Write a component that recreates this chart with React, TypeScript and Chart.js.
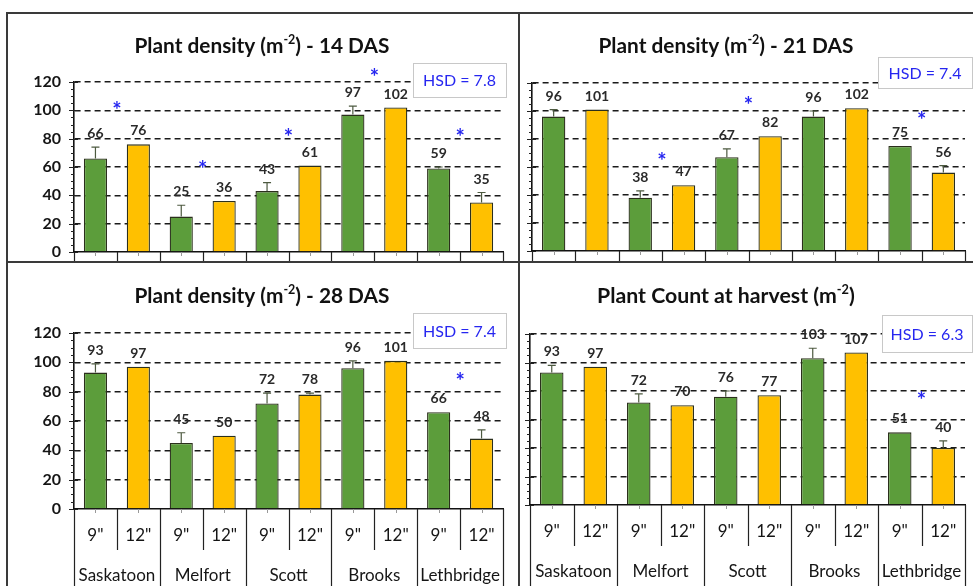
import React, { useEffect, useRef } from "react";
import { Chart, registerables } from "chart.js";

Chart.register(...registerables);

// ---- data ----
const locations = ["Saskatoon", "Melfort", "Scott", "Brooks", "Lethbridge"];
const spacings = ['9"', '12"'];
const yTicks = [0, 20, 40, 60, 80, 100, 120];

// 14 DAS
const das14Nine = [66, 25, 43, 97, 59];
const das14Twelve = [76, 36, 61, 102, 35];
const das14ErrNine = [8, 8, 6, 6, 1];
const das14ErrTwelve = [0, 0, 0, 0, 7];
const das14Stars = [104, 62, 85, 127, 85];
const das14Hsd = 7.8;

// 21 DAS
const das21Nine = [96, 38, 67, 96, 75];
const das21Twelve = [101, 47, 82, 102, 56];
const das21ErrNine = [5, 5, 6, 4, 0];
const das21ErrTwelve = [0, 0, 0, 0, 5];
const das21Stars = [null, 68, 108, null, 97];
const das21Hsd = 7.4;

// 28 DAS
const das28Nine = [93, 45, 72, 96, 66];
const das28Twelve = [97, 50, 78, 101, 48];
const das28ErrNine = [6, 7, 7, 5, 0];
const das28ErrTwelve = [0, 0, 1, 0, 6];
const das28Stars = [null, null, null, null, 91];
const das28Hsd = 7.4;

// at harvest
const harvestNine = [93, 72, 76, 103, 51];
const harvestTwelve = [97, 70, 77, 107, 40];
const harvestErrNine = [5, 6, 4, 7, 0];
const harvestErrTwelve = [0, 0, 0, 0, 5];
const harvestStars = [null, null, null, null, 77];
const harvestHsd = 6.3;

// ---- styling ----
const FONT = "Lato, 'Open Sans', 'DejaVu Sans', sans-serif";
const GREEN = "#5c9d3b";
const YELLOW = "#ffc000";
const BAR_EDGE = "#2b2f1c";
const STAR_BLUE = "#2626f0";

const interleave = (a: number[], b: number[]) => a.flatMap((v, i) => [v, b[i]]);

interface PanelCfg {
  title: [string, string, string];
  nine: number[];
  twelve: number[];
  errNine: number[];
  errTwelve: number[];
  stars: (number | null)[];
  hsd: number;
  left: number;
  top: number;
  w: number;
  h: number;
  padTop: number;
  padRight: number;
  yWidth: number;
  xHeight: number;
  showY: boolean;
  fullTable: boolean;
  titleX: number;
  titleY: number;
  titleW: number;
  hsdBox: [number, number, number, number];
}

const panels: PanelCfg[] = [
  {
    title: ["Plant density (m", "-2", ") - 14 DAS"],
    nine: das14Nine, twelve: das14Twelve, errNine: das14ErrNine, errTwelve: das14ErrTwelve,
    stars: das14Stars, hsd: das14Hsd,
    left: 0, top: 0, w: 519, h: 263, padTop: 82, padRight: 16, yWidth: 74, xHeight: 11,
    showY: true, fullTable: false, titleX: 262, titleY: 53, titleW: 255, hsdBox: [413, 63, 93, 34],
  },
  {
    title: ["Plant density (m", "-2", ") - 21 DAS"],
    nine: das21Nine, twelve: das21Twelve, errNine: das21ErrNine, errTwelve: das21ErrTwelve,
    stars: das21Stars, hsd: das21Hsd,
    left: 519, top: 0, w: 454, h: 263, padTop: 83, padRight: 8, yWidth: 13, xHeight: 12,
    showY: false, fullTable: false, titleX: 207, titleY: 53, titleW: 255, hsdBox: [359, 57, 94, 31],
  },
  {
    title: ["Plant density (m", "-2", ") - 28 DAS"],
    nine: das28Nine, twelve: das28Twelve, errNine: das28ErrNine, errTwelve: das28ErrTwelve,
    stars: das28Stars, hsd: das28Hsd,
    left: 0, top: 263, w: 519, h: 323, padTop: 70, padRight: 16, yWidth: 74, xHeight: 77,
    showY: true, fullTable: true, titleX: 262, titleY: 40, titleW: 255, hsdBox: [413, 50, 93, 35],
  },
  {
    title: ["Plant Count at harvest (m", "-2", ")"],
    nine: harvestNine, twelve: harvestTwelve, errNine: harvestErrNine, errTwelve: harvestErrTwelve,
    stars: harvestStars, hsd: harvestHsd,
    left: 519, top: 263, w: 454, h: 323, padTop: 71, padRight: 8, yWidth: 11, xHeight: 81,
    showY: false, fullTable: true, titleX: 207, titleY: 40, titleW: 258, hsdBox: [363, 52, 90, 37],
  },
];

function drawTitle(ctx: CanvasRenderingContext2D, parts: [string, string, string], cx: number, baseY: number, targetW: number) {
  const measure = (fs: number) => {
    ctx.font = `bold ${fs}px ${FONT}`;
    let w = ctx.measureText(parts[0]).width + ctx.measureText(parts[2]).width;
    ctx.font = `bold ${fs * 0.6}px ${FONT}`;
    return w + ctx.measureText(parts[1]).width;
  };
  const fs = (20 * targetW) / measure(20);
  let x = cx - targetW / 2;
  ctx.fillStyle = "#111";
  ctx.textAlign = "left";
  ctx.textBaseline = "alphabetic";
  ctx.font = `bold ${fs}px ${FONT}`;
  ctx.fillText(parts[0], x, baseY);
  x += ctx.measureText(parts[0]).width;
  ctx.font = `bold ${fs * 0.6}px ${FONT}`;
  ctx.fillText(parts[1], x, baseY - fs * 0.42);
  x += ctx.measureText(parts[1]).width;
  ctx.font = `bold ${fs}px ${FONT}`;
  ctx.fillText(parts[2], x, baseY);
}

const decorPlugin = {
  id: "decor",
  afterDraw(chart: Chart, _args: unknown, o: any) {
    const cfg: PanelCfg = o.cfg;
    const { ctx, chartArea: ca } = chart;
    const xs = chart.scales.x;
    const ys = chart.scales.y;
    const n = (chart.data.labels as string[]).length;
    const step = (ca.right - ca.left) / n;
    const values = interleave(cfg.nine, cfg.twelve);
    const errs = interleave(cfg.errNine, cfg.errTwelve);
    ctx.save();

    // y axis tick marks (major every 20, minor every 5)
    ctx.strokeStyle = "#222";
    ctx.lineWidth = 1;
    for (let v = 0; v <= yTicks[yTicks.length - 1]; v += 5) {
      const py = Math.round(ys.getPixelForValue(v)) + 0.5;
      const major = yTicks.includes(v);
      ctx.beginPath();
      ctx.moveTo(ca.left - (major ? 5 : 3), py);
      ctx.lineTo(ca.left + (major ? 4 : 0), py);
      ctx.stroke();
    }

    // category table under the axis
    ctx.strokeStyle = "#222";
    ctx.lineWidth = 1.2;
    for (let i = 0; i <= n; i++) {
      const px = Math.round(xs.getPixelForValue(Math.min(i, n - 1)) + (i === n ? step / 2 : -step / 2)) + 0.5;
      const end = !cfg.fullTable || i % 2 === 0 ? chart.height : ca.bottom + 41;
      ctx.beginPath();
      ctx.moveTo(px, ca.bottom);
      ctx.lineTo(px, end);
      ctx.stroke();
    }
    ctx.strokeStyle = "#999";
    ctx.lineWidth = 1;
    for (let i = 0; i < n; i++) {
      const px = Math.round(xs.getPixelForValue(i)) + 0.5;
      ctx.beginPath();
      ctx.moveTo(px, ca.bottom);
      ctx.lineTo(px, ca.bottom + 4);
      ctx.stroke();
    }
    if (cfg.fullTable) {
      ctx.fillStyle = "#151515";
      ctx.textAlign = "center";
      ctx.textBaseline = "middle";
      ctx.font = `17px ${FONT}`;
      for (let i = 0; i < n; i++) {
        ctx.fillText(spacings[i % 2], xs.getPixelForValue(i), ca.bottom + 27);
      }
      locations.forEach((loc, k) => {
        const cx = (xs.getPixelForValue(2 * k) + xs.getPixelForValue(2 * k + 1)) / 2;
        ctx.fillText(loc, cx, ca.bottom + 67);
      });
    }

    // error bars + value labels
    const meta = chart.getDatasetMeta(0);
    meta.data.forEach((bar: any, i: number) => {
      const top = ys.getPixelForValue(values[i]);
      const errTop = ys.getPixelForValue(values[i] + errs[i]);
      if (errs[i] > 0) {
        ctx.strokeStyle = "#4d5a40";
        ctx.lineWidth = 1.2;
        ctx.beginPath();
        ctx.moveTo(bar.x, top);
        ctx.lineTo(bar.x, errTop);
        ctx.moveTo(bar.x - 4, errTop);
        ctx.lineTo(bar.x + 4, errTop);
        ctx.stroke();
      }
      ctx.fillStyle = "#2a2a2a";
      ctx.textAlign = "center";
      ctx.textBaseline = "alphabetic";
      ctx.font = `bold 14px ${FONT}`;
      ctx.fillText(String(values[i]), bar.x, Math.min(top, errTop) - 9);
    });

    // significance asterisks between the two spacings of a location
    ctx.fillStyle = STAR_BLUE;
    ctx.textAlign = "center";
    ctx.textBaseline = "alphabetic";
    ctx.font = `bold 22px ${FONT}`;
    cfg.stars.forEach((s, k) => {
      if (s === null) return;
      const px = (xs.getPixelForValue(2 * k) + xs.getPixelForValue(2 * k + 1)) / 2;
      ctx.fillText("*", px, ys.getPixelForValue(s) + 13);
    });

    // HSD box
    const [bx, by, bw, bh] = cfg.hsdBox;
    ctx.fillStyle = "#fff";
    ctx.fillRect(bx, by, bw, bh);
    ctx.strokeStyle = "#c8c8c8";
    ctx.lineWidth = 1;
    ctx.strokeRect(bx + 0.5, by + 0.5, bw, bh);
    ctx.fillStyle = STAR_BLUE;
    ctx.textAlign = "center";
    ctx.textBaseline = "middle";
    ctx.font = `16px ${FONT}`;
    ctx.fillText(`HSD = ${cfg.hsd}`, bx + bw / 2, by + bh / 2 + 1);

    drawTitle(ctx, cfg.title, cfg.titleX, cfg.titleY, cfg.titleW);
    ctx.restore();
  },
};

function Panel({ cfg }: { cfg: PanelCfg }) {
  const canvasRef = useRef<HTMLCanvasElement | null>(null);
  const chartRef = useRef<Chart>();

  useEffect(() => {
    if (!canvasRef.current) return;
    const labels = locations.flatMap((loc) => spacings.map((s) => `${loc} ${s}`));
    const data = interleave(cfg.nine, cfg.twelve);
    chartRef.current = new Chart(canvasRef.current, {
      type: "bar",
      data: {
        labels,
        datasets: [
          {
            data,
            backgroundColor: data.map((_, i) => (i % 2 === 0 ? GREEN : YELLOW)),
            borderColor: BAR_EDGE,
            borderWidth: 1.3,
            borderSkipped: "bottom",
            barPercentage: 0.54,
            categoryPercentage: 1,
          },
        ],
      },
      options: {
        responsive: false,
        animation: false,
        devicePixelRatio: 1,
        layout: { padding: { left: 0, right: cfg.padRight, top: cfg.padTop, bottom: 0 } },
        plugins: {
          legend: { display: false },
          tooltip: { enabled: false },
          decor: { cfg },
        } as any,
        scales: {
          x: {
            offset: true,
            grid: { display: false },
            border: { display: true, color: "#111", width: 1.6 },
            ticks: { display: false },
            afterFit: (s: any) => {
              s.height = cfg.xHeight;
              s.paddingLeft = 0;
              s.paddingRight = 0;
            },
          },
          y: {
            min: 0,
            max: yTicks[yTicks.length - 1],
            afterBuildTicks: (s: any) => {
              s.ticks = yTicks.map((v) => ({ value: v }));
            },
            ticks: {
              display: cfg.showY,
              color: "#151515",
              padding: 13,
              font: { family: FONT, size: 16, weight: "bold" },
            },
            grid: {
              drawTicks: false,
              color: (c: any) => (c.tick && c.tick.value === 0 ? "rgba(0,0,0,0)" : "#1a1a1a"),
              lineWidth: 1.5,
            },
            border: { display: true, color: "#111", width: 1.6, dash: [6, 4] },
            afterFit: (s: any) => {
              s.width = cfg.yWidth;
              s.paddingTop = 0;
              s.paddingBottom = 0;
            },
          },
        },
      },
      plugins: [decorPlugin],
    } as any);
    return () => {
      chartRef.current && chartRef.current.destroy();
    };
  }, [cfg]);

  return (
    <canvas
      ref={canvasRef}
      width={cfg.w}
      height={cfg.h}
      style={{ position: "absolute", left: cfg.left, top: cfg.top, width: cfg.w, height: cfg.h }}
    />
  );
}

const line = (left: number, top: number, width: number, height: number): React.CSSProperties => ({
  position: "absolute",
  left,
  top,
  width,
  height,
  background: "#3a3a3a",
});

export default function App() {
  return (
    <div style={{ position: "absolute", left: 0, top: 0, width: 973, height: 586, background: "#fff", overflow: "hidden" }}>
      {panels.map((p, i) => (
        <Panel key={i} cfg={p} />
      ))}
      <div style={line(7, 12, 966, 2)} />
      <div style={line(6, 12, 2, 574)} />
      <div style={line(7, 261, 966, 2)} />
      <div style={line(518, 12, 2, 574)} />
    </div>
  );
}
